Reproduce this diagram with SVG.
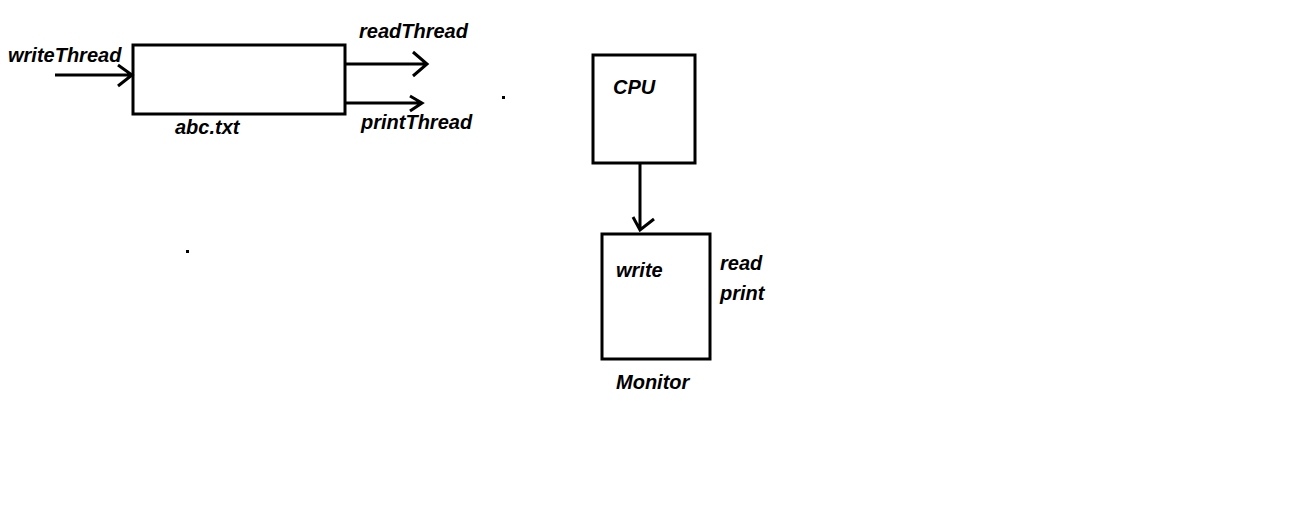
<svg xmlns="http://www.w3.org/2000/svg" width="1297" height="531" viewBox="0 0 1297 531">
<style>
.box{fill:none;stroke:#000;stroke-width:3}
.ln{fill:none;stroke:#000;stroke-width:3}
.t{font-family:"Liberation Sans",Arial,sans-serif;font-weight:bold;font-style:italic;font-size:20px;fill:#000}
</style>
<rect width="1297" height="531" fill="#fff"/>
<g id="abc">
<rect class="box" x="133" y="45" width="212" height="69"/>
<text class="t" x="175" y="134">abc.txt</text>
</g>
<g id="writeThread"><text class="t" x="8" y="62">writeThread</text></g>
<g id="readThread"><text class="t" x="359" y="38">readThread</text></g>
<g id="printThread"><text class="t" x="361" y="129">printThread</text></g>
<g id="cpu">
<rect class="box" x="593" y="55" width="102" height="108"/>
<text class="t" x="613" y="94">CPU</text>
</g>
<g id="monitor">
<rect class="box" x="602" y="234" width="108" height="125"/>
<text class="t" x="616" y="277">write</text>
<text class="t" x="616" y="389">Monitor</text>
</g>
<g id="labels">
<text class="t" x="720" y="270">read</text>
<text class="t" x="720" y="300">print</text>
</g>
<g id="connectors">
<path class="ln" d="M55 75H132M118 65L132 75L118 86"/>
<path class="ln" d="M345 64H427M413 52L427 64L413 76"/>
<path class="ln" d="M345 103H422M410 96L422 103L410 111"/>
<path class="ln" d="M640 164V230M633 217L640 230L654 219"/>
</g>
<rect x="502" y="96" width="3" height="3" fill="#000"/>
<rect x="186" y="250" width="3" height="3" fill="#000"/>
</svg>
